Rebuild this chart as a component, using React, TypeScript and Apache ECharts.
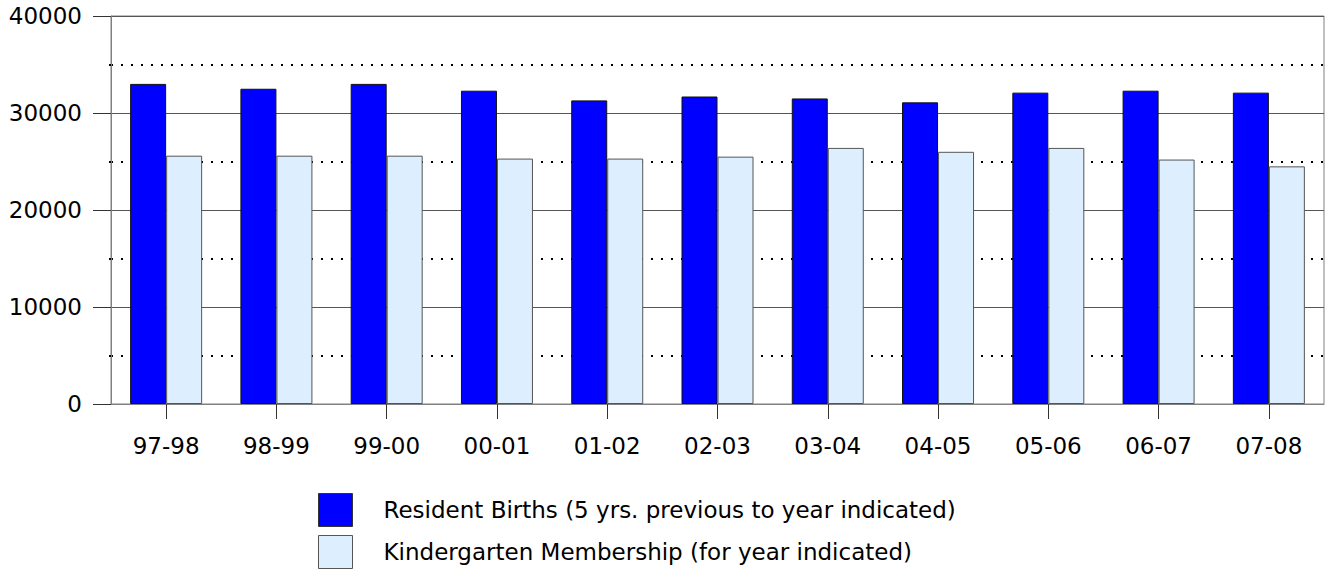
import React, { useEffect, useRef } from "react";
import * as echarts from "echarts";

const categories = ["97-98", "98-99", "99-00", "00-01", "01-02", "02-03", "03-04", "04-05", "05-06", "06-07", "07-08"];
const residentBirths = [33000, 32500, 33000, 32300, 31300, 31700, 31500, 31100, 32100, 32300, 32100];
const kindergarten = [25600, 25600, 25600, 25300, 25300, 25500, 26400, 26000, 26400, 25200, 24500];
const seriesNames = [
  "Resident Births (5 yrs. previous to year indicated)",
  "Kindergarten Membership (for year indicated)",
];

const FONT = "DejaVu Sans";

export default function App() {
  const ref = useRef<HTMLDivElement>(null);
  useEffect(() => {
    if (!ref.current) return;
    const chart = echarts.init(ref.current, null, { renderer: "svg" });
    chart.setOption({
      animation: false,
      backgroundColor: "#ffffff",
      textStyle: { fontFamily: FONT },
      grid: {
        left: 111,
        right: 1,
        top: 16,
        bottom: 167,
        show: true,
        borderColor: "#808080",
        borderWidth: 1,
        backgroundColor: "transparent",
      },
      legend: {
        orient: "vertical",
        left: 318,
        top: 493,
        height: 120,
        itemWidth: 34,
        itemHeight: 33,
        itemGap: 8,
        padding: 0,
        selectedMode: false,
        textStyle: { fontFamily: FONT, fontSize: 23, color: "#000", padding: [0, 0, 0, 26] },
        data: [
          { name: seriesNames[0], icon: "rect", itemStyle: { color: "#0000ff", borderColor: "#333", borderWidth: 1 } },
          { name: seriesNames[1], icon: "rect", itemStyle: { color: "#ddeeff", borderColor: "#555", borderWidth: 1 } },
        ],
      },
      xAxis: {
        type: "category",
        data: categories,
        axisLine: { lineStyle: { color: "#808080", width: 1 } },
        axisTick: { show: true, alignWithLabel: true, length: 15, lineStyle: { color: "#333" } },
        axisLabel: { fontFamily: FONT, fontSize: 23, color: "#000", margin: 30 },
        splitLine: { show: false },
      },
      yAxis: {
        type: "value",
        min: 0,
        max: 40000,
        interval: 10000,
        axisLine: { show: true, lineStyle: { color: "#808080", width: 1 } },
        axisTick: { show: true, inside: false, length: 18, lineStyle: { color: "#333" } },
        axisLabel: {
          fontFamily: FONT,
          fontSize: 23,
          color: "#000",
          margin: 29,
          padding: [6, 0, 0, 0],
          formatter: (v: number) => String(v),
        },
        splitLine: { show: true, lineStyle: { color: "#555", width: 1 } },
        minorTick: { show: true, splitNumber: 2, length: 2, lineStyle: { color: "#000", width: 2 } },
        minorSplitLine: { show: true, lineStyle: { color: "#000", width: 2, type: [2, 8] } },
      },
      series: [
        {
          name: seriesNames[0],
          type: "bar",
          data: residentBirths,
          barWidth: 36,
          barGap: "0%",
          itemStyle: { color: "#0000ff", borderColor: "#111", borderWidth: 1 },
        },
        {
          name: seriesNames[1],
          type: "bar",
          data: kindergarten,
          barWidth: 36,
          barGap: "0%",
          itemStyle: { color: "#ddeeff", borderColor: "#555", borderWidth: 1 },
        },
      ],
    });
    return () => chart.dispose();
  }, []);
  return (
    <div
      ref={ref}
      style={{ position: "fixed", left: 0, top: 0, width: 1325, height: 571, background: "#fff" }}
    />
  );
}
